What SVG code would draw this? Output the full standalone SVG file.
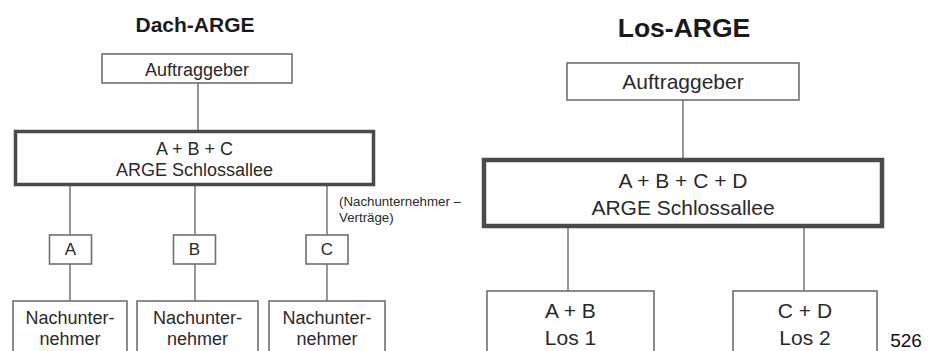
<svg xmlns="http://www.w3.org/2000/svg" width="928" height="351" viewBox="0 0 928 351">
<style>
text{font-family:"Liberation Sans",Arial,sans-serif;fill:#2a2a2a;text-anchor:middle}
.title{font-weight:bold;fill:#1a1a1a}
.box{fill:#fff;stroke:#707070;stroke-width:1.6}
.big{fill:#fff;stroke:#4a4a4a}
.s{font-size:18px}
.m{font-size:21px}
.conn line{stroke:#8c8c8c;stroke-width:1.8}
</style>
<rect width="928" height="351" fill="#fff"/>
<text class="title" x="195" y="32" font-size="21">Dach-ARGE</text>
<text class="title" x="684" y="37" font-size="26.5">Los-ARGE</text>
<g class="conn" id="connectors">
<line x1="198" y1="83" x2="198" y2="130"/>
<line x1="70" y1="186" x2="70" y2="235"/>
<line x1="195" y1="186" x2="195" y2="235"/>
<line x1="327" y1="186" x2="327" y2="235"/>
<line x1="70" y1="264" x2="70" y2="301"/>
<line x1="195" y1="264" x2="195" y2="301"/>
<line x1="327" y1="264" x2="327" y2="301"/>
<line x1="683" y1="100" x2="683" y2="158"/>
<line x1="568" y1="228" x2="568" y2="291"/>
<line x1="804" y1="228" x2="804" y2="291"/>
</g>
<g id="l-auftraggeber"><rect class="box" x="102" y="54" width="190" height="29"/><text class="s" x="197" y="76">Auftraggeber</text></g>
<g id="l-arge"><rect class="big" x="15.5" y="131.5" width="358" height="53" stroke-width="3.5"/><text class="s" x="194.5" y="155">A + B + C</text><text class="s" x="194.5" y="176">ARGE Schlossallee</text></g>
<text x="339" y="206" font-size="13.3" style="text-anchor:start">(Nachunternehmer –</text>
<text x="339" y="222" font-size="13.3" style="text-anchor:start">Verträge)</text>
<g id="l-a"><rect class="box" x="49.5" y="235" width="42" height="29"/><text x="70.5" y="255" font-size="17">A</text></g>
<g id="l-b"><rect class="box" x="173.5" y="235" width="42" height="29"/><text x="194.5" y="255" font-size="17">B</text></g>
<g id="l-c"><rect class="box" x="306" y="235" width="42" height="29"/><text x="327" y="255" font-size="17">C</text></g>
<g id="l-nu1"><rect class="box" x="13" y="301" width="114" height="60"/><text class="s" x="70" y="324">Nachunter-</text><text class="s" x="70" y="345">nehmer</text></g>
<g id="l-nu2"><rect class="box" x="137" y="301" width="121" height="60"/><text class="s" x="197.5" y="324">Nachunter-</text><text class="s" x="197.5" y="345">nehmer</text></g>
<g id="l-nu3"><rect class="box" x="269" y="301" width="116" height="60"/><text class="s" x="327" y="324">Nachunter-</text><text class="s" x="327" y="345">nehmer</text></g>
<g id="r-auftraggeber"><rect class="box" x="567" y="63" width="232" height="37"/><text class="m" x="683" y="89">Auftraggeber</text></g>
<g id="r-arge"><rect class="big" x="484" y="160" width="398" height="66" stroke-width="4.5"/><text class="m" x="683" y="188">A + B + C + D</text><text class="m" x="683" y="215">ARGE Schlossallee</text></g>
<g id="r-los1"><rect class="box" x="487" y="291" width="167" height="70"/><text class="m" x="570.5" y="318">A + B</text><text class="m" x="570.5" y="345">Los 1</text></g>
<g id="r-los2"><rect class="box" x="733" y="291" width="144" height="70"/><text class="m" x="805" y="318">C + D</text><text class="m" x="805" y="345">Los 2</text></g>
<text x="906" y="347" font-size="19" style="fill:#111">526</text>
</svg>
